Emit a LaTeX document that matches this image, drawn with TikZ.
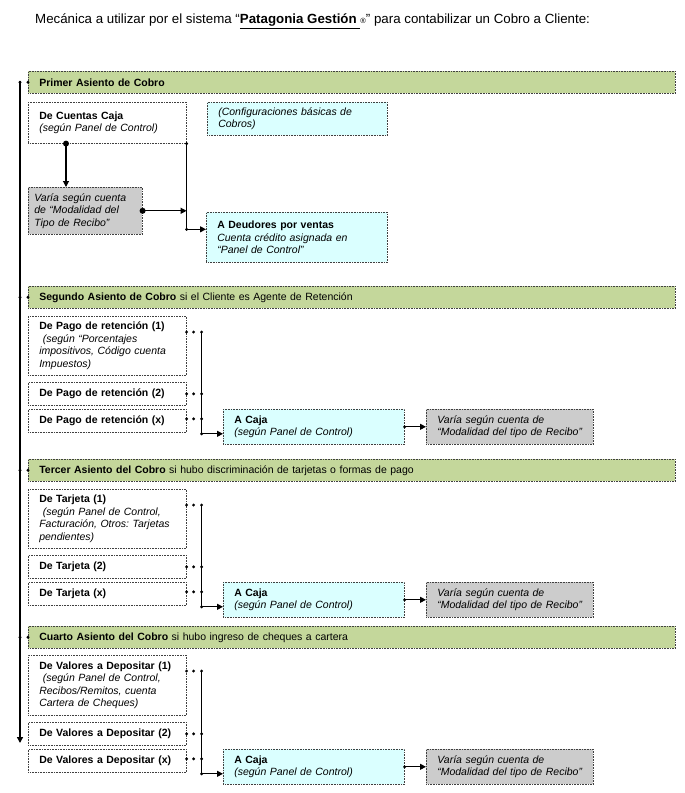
\documentclass[tikz,border=0pt]{standalone}
\usepackage{fontspec}
\setmainfont{Liberation Sans}
\usetikzlibrary{arrows.meta,calc}
\definecolor{bargreen}{RGB}{196,215,155}
\definecolor{boxcyan}{RGB}{218,255,255}
\definecolor{boxgray}{RGB}{204,204,204}
\newcommand{\boxfont}{\fontsize{10.5}{12.5}\selectfont\frenchspacing}
\begin{document}
\frenchspacing
\begin{tikzpicture}[x=1pt,y=1pt,
 frame/.style={draw=black!75, densely dotted, line width=0.6pt, anchor=north west, inner ysep=0pt, inner xsep=11pt, align=left, font=\boxfont},
 plain/.style={frame, fill=white},
 leftbox/.style={plain, minimum width=158pt, text width=136pt},
 cyanbox/.style={frame, fill=boxcyan},
 cajabox/.style={cyanbox, minimum width=181pt, minimum height=35pt, text width=159pt},
 graybox/.style={frame, fill=boxgray},
 resbox/.style={graybox, minimum width=167pt, minimum height=35pt, text width=145pt},
 barbox/.style={frame, fill=bargreen, minimum width=647pt, minimum height=22pt, text width=625pt},
 conn/.style={line width=1.1pt},
 arr/.style={conn, -{Triangle[length=6pt,width=6pt]}},
]
\useasboundingbox (0,0) rectangle (685,-793);

% title
\node[anchor=west, inner sep=0pt, font=\fontsize{13.3}{15}\selectfont] (title) at (35,-21)
 {Mecánica a utilizar por el sistema “\underline{\textbf{Patagonia Gestión }}{\fontsize{7.5}{8}\selectfont ®}” para contabilizar un Cobro a Cliente:};

% ---------------- Section 1
\node[barbox] (bar1) at (28,-71) {\textbf{Primer Asiento de Cobro}};
\node[leftbox, minimum height=41pt] (caja) at (28,-102)
 {\textbf{De Cuentas Caja}\\\textit{(según Panel de Control)}};
\node[cyanbox, minimum width=180pt, minimum height=33pt, text width=158pt] (config) at (207,-102)
 {\mbox{\textit{(Configuraciones básicas de}}\\\textit{Cobros)}};
\node[graybox, inner xsep=6pt, minimum width=114pt, minimum height=47pt, text width=102pt] (gray1) at (28,-187)
 {\mbox{\textit{Varía según cuenta}}\\\mbox{\textit{de “Modalidad del}}\\\mbox{\textit{Tipo de Recibo”}}};
\node[cyanbox, minimum width=181pt, minimum height=50pt, text width=159pt] (deud) at (206,-212)
 {\textbf{A Deudores por ventas}\\\mbox{\textit{Cuenta crédito asignada en}}\\\textit{“Panel de Control”}};

\fill ([xshift=38pt]caja.south west) circle (3);
\draw[arr] ([xshift=38pt]caja.south west) -- ([xshift=38pt]gray1.north west);
\fill (gray1.east) circle (3);
\draw[arr] (gray1.east) -- (gray1.east -| caja.south east);
\coordinate (k1) at ([yshift=8pt]deud.west);
\fill (caja.south east) circle (1.6);
\draw[arr] (caja.south east) |- (k1);
\fill (caja.south east |- k1) circle (1.6);

% ---------------- Section 2
\node[barbox] (bar2) at (28,-286) {\textbf{Segundo Asiento de Cobro} si el Cliente es Agente de Retención};
\node[leftbox, minimum height=59pt] (s2a) at (28,-316)
 {\mbox{\textbf{De Pago de retención (1)}}\\\mbox{\textit{\ (según “Porcentajes}}\\\mbox{\textit{impositivos, Código cuenta}}\\\textit{Impuestos)}};
\node[leftbox, minimum height=23pt] (s2b) at (28,-382) {\mbox{\textbf{De Pago de retención (2)}}};
\node[leftbox, minimum height=23pt] (s2c) at (28,-409) {\mbox{\textbf{De Pago de retención (x)}}};
\node[cajabox] (s2caja) at (223,-409) {\textbf{A Caja}\\\textit{(según Panel de Control)}};
\node[resbox] (s2gray) at (426,-409) {\mbox{\textit{Varía según cuenta de}}\\\mbox{\textit{“Modalidad del tipo de Recibo”}}};

\coordinate (s2d) at ([yshift=-16pt]s2a.north east);
\coordinate (s2v) at ([xshift=15pt]s2d);
\coordinate (s2k) at ([yshift=-7pt]s2caja.west);
\fill (s2d) circle (1.6) ++(7,0) circle (1.6) ++(8,0) circle (1.6);
\fill (s2b.east) circle (1.6) ++(7,0) circle (1.6) ++(8,0) circle (1.6);
\fill ([yshift=2pt]s2c.east) circle (1.6) ++(7,0) circle (1.6) ++(8,0) circle (1.6);
\draw[arr] (s2v) |- (s2k);
\fill (s2v |- s2k) circle (1.6);
\fill (s2caja.east) circle (1.6);
\draw[arr] (s2caja.east) -- (s2gray.west);

% ---------------- Section 3
\node[barbox] (bar3) at (28,-459) {\textbf{Tercer Asiento del Cobro} si hubo discriminación de tarjetas o formas de pago};
\node[leftbox, minimum height=59pt] (s3a) at (28,-489)
 {\textbf{De Tarjeta (1)}\\\mbox{\textit{\ (según Panel de Control,}}\\\mbox{\textit{Facturación, Otros: Tarjetas}}\\\textit{pendientes)}};
\node[leftbox, minimum height=23pt] (s3b) at (28,-555) {\textbf{De Tarjeta (2)}};
\node[leftbox, minimum height=23pt] (s3c) at (28,-582) {\textbf{De Tarjeta (x)}};
\node[cajabox] (s3caja) at (223,-582) {\textbf{A Caja}\\\textit{(según Panel de Control)}};
\node[resbox] (s3gray) at (426,-582) {\mbox{\textit{Varía según cuenta de}}\\\mbox{\textit{“Modalidad del tipo de Recibo”}}};

\coordinate (s3d) at ([yshift=-16pt]s3a.north east);
\coordinate (s3v) at ([xshift=15pt]s3d);
\coordinate (s3k) at ([yshift=-7pt]s3caja.west);
\fill (s3d) circle (1.6) ++(7,0) circle (1.6) ++(8,0) circle (1.6);
\fill (s3b.east) circle (1.6) ++(7,0) circle (1.6) ++(8,0) circle (1.6);
\fill ([yshift=2pt]s3c.east) circle (1.6) ++(7,0) circle (1.6) ++(8,0) circle (1.6);
\draw[arr] (s3v) |- (s3k);
\fill (s3v |- s3k) circle (1.6);
\fill (s3caja.east) circle (1.6);
\draw[arr] (s3caja.east) -- (s3gray.west);

% ---------------- Section 4
\node[barbox] (bar4) at (28,-626) {\textbf{Cuarto Asiento del Cobro} si hubo ingreso de cheques a cartera};
\node[leftbox, minimum height=60pt] (s4a) at (28,-655)
 {\mbox{\textbf{De Valores a Depositar (1)}}\\\mbox{\textit{\ (según Panel de Control,}}\\\mbox{\textit{Recibos/Remitos, cuenta}}\\\mbox{\textit{Cartera de Cheques)}}};
\node[leftbox, minimum height=23pt] (s4b) at (28,-722) {\mbox{\textbf{De Valores a Depositar (2)}}};
\node[leftbox, minimum height=23pt] (s4c) at (28,-749) {\mbox{\textbf{De Valores a Depositar (x)}}};
\node[cajabox] (s4caja) at (223,-749) {\textbf{A Caja}\\\textit{(según Panel de Control)}};
\node[resbox] (s4gray) at (426,-749) {\mbox{\textit{Varía según cuenta de}}\\\mbox{\textit{“Modalidad del tipo de Recibo”}}};

\coordinate (s4d) at ([yshift=-16pt]s4a.north east);
\coordinate (s4v) at ([xshift=15pt]s4d);
\coordinate (s4k) at ([yshift=-7pt]s4caja.west);
\fill (s4d) circle (1.6) ++(7,0) circle (1.6) ++(8,0) circle (1.6);
\fill (s4b.east) circle (1.6) ++(7,0) circle (1.6) ++(8,0) circle (1.6);
\fill ([yshift=2pt]s4c.east) circle (1.6) ++(7,0) circle (1.6) ++(8,0) circle (1.6);
\draw[arr] (s4v) |- (s4k);
\fill (s4v |- s4k) circle (1.6);
\fill (s4caja.east) circle (1.6);
\draw[arr] (s4caja.east) -- (s4gray.west);

% ---------------- main left line
\coordinate (mtop) at (20,-81);
\coordinate (mend) at (20,-743);
\draw[arr, line width=1.3pt] (mtop) -- (mend);
\foreach \b in {bar1,bar2,bar3,bar4}{
  \fill (\b.west -| mtop) circle (1.6);
  \fill (\b.west) circle (1.6);
}
\end{tikzpicture}
\end{document}
